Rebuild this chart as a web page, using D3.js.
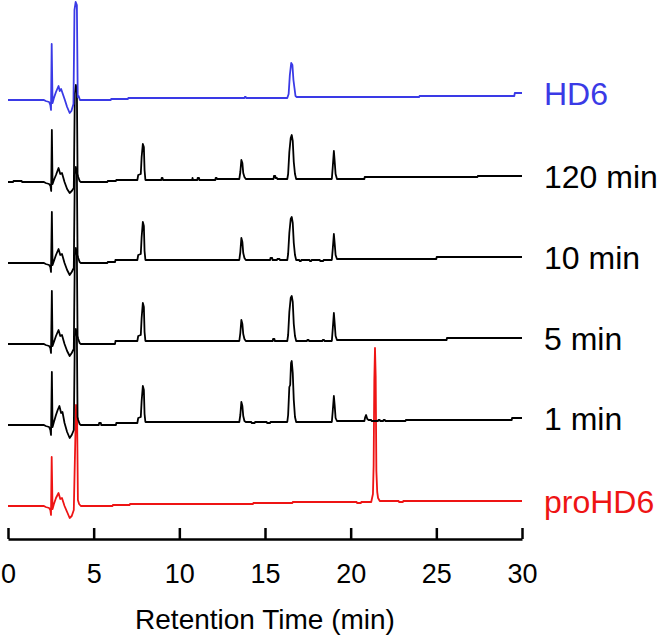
<!DOCTYPE html>
<html>
<head>
<meta charset="utf-8">
<script src="https://cdn.jsdelivr.net/npm/d3@7"></script>
<style>
  html, body { margin: 0; padding: 0; background: #fff; }
  svg { display: block; }
</style>
</head>
<body>
<div id="chart"></div>
<script>
// ---------- DATA ----------
const xTicks = [0, 5, 10, 15, 20, 25, 30];
const traceNames = ["HD6", "120 min", "10 min", "5 min", "1 min", "proHD6"];
// vertical stacking offset of each trace (signal units)
const traceOffsets = [406, 324, 243, 162, 81, 0];

// [retention time (min), signal] pairs, signal relative to trace's own baseline at t=0
const traceHD6 = [
  [0,0],[2.1,0],[2.2,-1],[2.4,-2],[2.47,-5],[2.51,-10],[2.55,56],[2.6,-3],[2.68,2],[2.8,8],[2.95,14],
  [3.02,9],[3.1,11],[3.2,6],[3.32,0],[3.45,-7],[3.6,-13],[3.7,-11],[3.82,-4],[3.88,90],[3.95,98],
  [4.02,95],[4.07,3],[4.12,4],[4.2,0],[6.0,0],[6.02,1],[7.0,1],[7.02,2],[13.8,2],[13.82,3],[13.88,3],
  [13.9,2],[16.3,2],[16.38,6],[16.45,25],[16.53,37],[16.6,35],[16.66,20],[16.72,12],[16.78,4],
  [16.85,3],[24.0,3],[24.02,4],[29.55,4],[29.58,7],[30,7]
];
const trace120 = [
  [0,0],[0.3,0],[0.32,1],[0.8,1],[0.82,0],[2.1,0],[2.2,-1],[2.4,-2],[2.48,-4],[2.52,-9],[2.56,52],
  [2.6,-2],[2.68,2],[2.8,7],[2.95,14],[3.05,8],[3.15,9],[3.3,0],[3.45,-7],[3.6,-11],[3.72,-9],
  [3.84,-6],[3.9,88],[3.96,97],[4.02,92],[4.06,8],[4.1,5],[4.18,1],[4.25,0],[5.8,0],[5.82,1],
  [6.3,1],[6.32,2],[7.55,2],[7.6,7],[7.75,8],[7.8,25],[7.87,38],[7.93,35],[7.97,12],[8.02,2],
  [8.95,2],[8.97,4],[9.02,4],[9.05,2],[10.75,2],[10.77,4],[10.8,2],[11.05,2],[11.07,4],[11.15,4],
  [11.17,2],[12.1,2],[12.12,4],[12.18,4],[12.2,3],[13.5,3],[13.56,10],[13.62,22],[13.68,19],
  [13.73,9],[13.8,5],[13.88,3],[15.5,3],[15.52,6],[15.6,6],[15.62,4],[15.7,4],[15.72,3],[16.3,3],
  [16.35,8],[16.42,30],[16.5,44],[16.56,47],[16.62,41],[16.68,20],[16.75,8],[16.82,3],[18.9,3],
  [18.95,14],[19.02,31],[19.07,20],[19.12,8],[19.2,3],[20.8,3],[20.82,5],[27.4,5],[27.42,6],[30,6]
];
const trace10 = [
  [0,0],[2.1,0],[2.2,-1],[2.4,-2],[2.47,-4],[2.51,-9],[2.56,51],[2.6,-2],[2.68,2],[2.8,8],[2.95,14],
  [3.05,8],[3.15,9],[3.3,0],[3.45,-7],[3.6,-12],[3.72,-9],[3.84,-5],[3.9,88],[3.96,96],[4.02,90],
  [4.06,8],[4.1,5],[4.18,1],[4.25,0],[5.8,0],[5.82,1],[6.25,1],[6.27,3],[7.55,3],[7.6,8],[7.75,9],
  [7.8,26],[7.87,41],[7.93,37],[7.97,12],[8.02,3],[13.5,3],[13.56,11],[13.62,25],[13.68,21],
  [13.73,10],[13.8,5],[13.88,3],[15.3,3],[15.32,5],[15.42,5],[15.44,3],[15.7,3],[15.72,4],
  [15.85,4],[15.87,3],[16.3,3],[16.35,9],[16.42,30],[16.5,44],[16.56,46],[16.62,40],[16.68,20],
  [16.75,8],[16.82,3],[17.0,3],[17.02,2],[17.1,2],[17.12,3],[17.6,3],[17.62,2],[17.7,2],[17.72,3],
  [18.2,3],[18.22,2],[18.4,2],[18.42,3],[18.9,3],[18.95,13],[19.02,29],[19.07,19],[19.12,8],
  [19.2,4],[25.0,4],[25.02,6],[30,6]
];
const trace5 = [
  [0,0],[2.1,0],[2.2,-1],[2.4,-2],[2.47,-4],[2.51,-9],[2.56,53],[2.6,-2],[2.68,2],[2.8,8],[2.95,14],
  [3.05,8],[3.15,9],[3.3,0],[3.45,-7],[3.6,-12],[3.72,-9],[3.84,-5],[3.9,88],[3.96,96],[4.02,90],
  [4.06,8],[4.1,5],[4.18,1],[4.25,0],[6.25,0],[6.27,3],[7.55,3],[7.6,8],[7.75,9],[7.8,26],
  [7.87,41],[7.93,37],[7.97,12],[8.02,3],[13.5,3],[13.56,11],[13.62,24],[13.68,20],[13.73,10],
  [13.8,5],[13.88,3],[15.45,3],[15.47,5],[15.55,5],[15.57,3],[16.3,3],[16.35,9],[16.42,32],
  [16.5,46],[16.56,48],[16.62,42],[16.68,20],[16.75,8],[16.82,3],[17.45,3],[17.47,4],[17.55,4],
  [17.57,3],[18.35,3],[18.37,4],[18.45,4],[18.47,3],[18.9,3],[18.95,14],[19.02,31],[19.07,20],
  [19.12,8],[19.2,4],[25.6,4],[25.62,6],[30,6]
];
const trace1 = [
  [0,0],[2.1,0],[2.2,-1],[2.4,-2],[2.47,-5],[2.51,-10],[2.56,53],[2.6,-2],[2.68,3],[2.8,10],
  [2.9,15],[3.0,19],[3.1,12],[3.18,13],[3.3,2],[3.45,-7],[3.6,-13],[3.72,-10],[3.84,-5],[3.9,88],
  [3.96,96],[4.02,90],[4.06,8],[4.1,5],[4.18,1],[4.25,0],[5.3,0],[5.32,2],[5.42,2],[5.44,0],
  [6.3,0],[6.32,2],[7.55,2],[7.6,7],[7.75,8],[7.8,24],[7.87,39],[7.93,35],[7.97,11],[8.02,3],
  [13.5,3],[13.56,10],[13.62,23],[13.68,19],[13.73,9],[13.8,4],[13.88,3],[14.2,3],[14.22,2],
  [14.4,2],[14.42,3],[15.1,3],[15.12,2],[15.3,2],[15.32,3],[16.3,3],[16.35,10],[16.42,38],
  [16.47,40],[16.52,62],[16.56,64],[16.62,52],[16.68,25],[16.75,8],[16.82,3],[18.9,3],[18.95,13],
  [19.02,29],[19.07,19],[19.12,7],[19.2,4],[20.8,4],[20.85,8],[20.9,10],[20.97,6],[21.05,5],
  [21.2,5],[21.22,4],[21.6,4],[21.62,5],[21.7,5],[21.72,4],[21.9,4],[21.92,5],[22.0,5],[22.02,4],
  [23.2,4],[23.22,5],[29.4,5],[29.42,7],[30,7]
];
const traceProHD6 = [
  [0,0],[2.1,0],[2.2,-1],[2.4,-2],[2.47,-4],[2.51,-9],[2.55,49],[2.6,-3],[2.68,2],[2.8,8],[2.95,13],
  [3.05,7],[3.15,8],[3.3,0],[3.45,-6],[3.6,-12],[3.72,-10],[3.84,-4],[3.92,60],[3.97,101],
  [4.03,96],[4.08,6],[4.15,2],[4.25,0],[6.1,0],[6.12,1],[7.1,1],[7.12,2],[14.3,2],[14.32,3],
  [16.6,3],[16.62,4],[20.35,4],[20.37,3],[20.6,3],[20.62,4],[21.2,4],[21.25,8],[21.3,12],
  [21.34,40],[21.38,126],[21.42,158],[21.46,130],[21.5,35],[21.55,14],[21.6,8],[21.7,5],
  [22.8,5],[22.82,4],[23.05,4],[23.07,5],[30,5]
];
const traceData = [traceHD6, trace120, trace10, trace5, trace1, traceProHD6];

// ---------- STYLE ----------
const W = 664, H = 638;
const colorOf = { "HD6": "#3a3ae6", "proHD6": "#ee1414" };
const defaultColor = "#000000";
const fontFam = "'Liberation Sans', Arial, Helvetica, sans-serif";

const svg = d3.select("#chart").append("svg")
  .attr("width", W).attr("height", H)
  .style("font-family", fontFam);

svg.append("rect").attr("width", W).attr("height", H).attr("fill", "#fff");

const x = d3.scaleLinear().domain([0, 30]).range([8, 522]);
const y = d3.scaleLinear().domain([-33, 506]).range([539, 0]);

const line = d3.line()
  .x(d => x(d[0]))
  .y(d => y(d[1]));

const order = [5, 4, 3, 2, 1, 0];
order.forEach(i => {
  const off = traceOffsets[i];
  const pts = traceData[i].map(p => [p[0], p[1] + off]);
  svg.append("path")
    .datum(pts)
    .attr("d", line)
    .attr("fill", "none")
    .attr("stroke", colorOf[traceNames[i]] || defaultColor)
    .attr("stroke-width", 1.8)
    .attr("stroke-linejoin", "round");
});

// labels
traceNames.forEach((name, i) => {
  const last = traceData[i][traceData[i].length - 1];
  svg.append("text")
    .attr("x", 544)
    .attr("y", y(last[1] + traceOffsets[i]))
    .attr("dy", "0.36em")
    .attr("fill", colorOf[name] || defaultColor)
    .style("font-size", "32px")
    .text(name);
});

// axis
const axis = d3.axisBottom(x)
  .tickValues(xTicks)
  .tickFormat(d3.format("d"))
  .tickSize(-11)
  .tickSizeOuter(0)
  .tickPadding(25);

const gx = svg.append("g")
  .attr("transform", `translate(0,${y(-33)})`)
  .call(axis);
gx.select(".domain").attr("stroke", "#000").attr("stroke-width", 2.5);
gx.selectAll(".tick line").attr("stroke", "#000").attr("stroke-width", 2.5);
gx.selectAll(".tick text")
  .attr("fill", "#000")
  .style("font-size", "27px")
  .style("font-family", fontFam);

svg.append("text")
  .attr("x", (x(0) + x(30)) / 2)
  .attr("y", 629)
  .attr("text-anchor", "middle")
  .attr("fill", "#000")
  .style("font-size", "28px")
  .text("Retention Time (min)");
</script>
</body>
</html>
